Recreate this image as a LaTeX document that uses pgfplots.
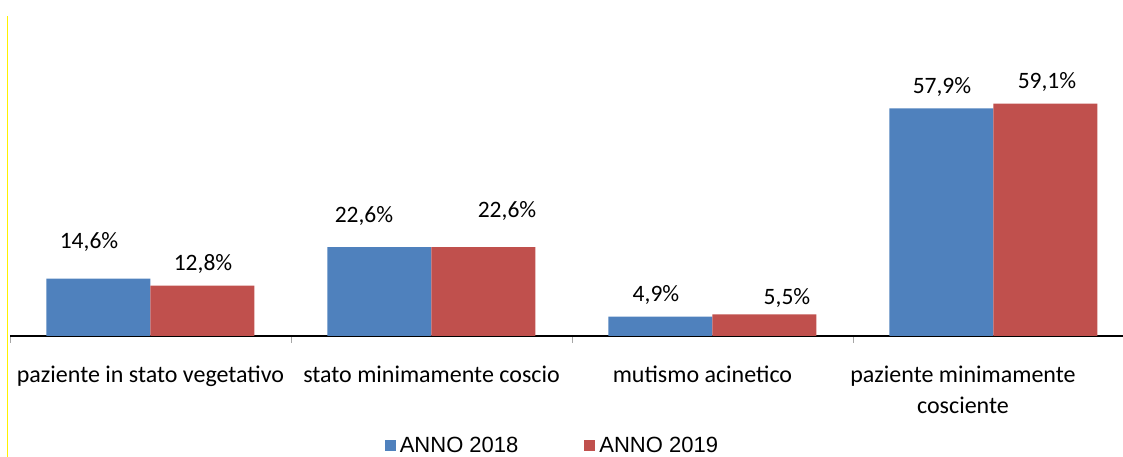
\documentclass[border=0pt]{standalone}
\usepackage{pgfplots}
\pgfplotsset{compat=1.18}
\usepackage{fontspec}
\setmainfont{Carlito}
\newfontfamily\arialfont{Liberation Sans}
\definecolor{blu}{HTML}{4F81BD}
\definecolor{ros}{HTML}{C0504D}
\begin{document}
\begin{tikzpicture}[x=1pt,y=1pt]
\begin{axis}[
  at={(10pt,121pt)}, anchor=south west,
  scale only axis, width=1124pt, height=275.1pt,
  xmin=-0.5, xmax=3.5, ymin=0, ymax=70,
  ybar=0pt, bar width=104pt,
  axis x line=bottom, axis y line=none,
  x axis line style={-, black, line width=1.2pt},
  xtick={-0.5,0.5,1.5,2.5,3.5},
  x tick label as interval,
  xticklabels={paziente in stato vegetativo, stato minimamente coscio, \kern-20pt mutismo acinetico, {\kern-61pt paziente minimamente\\\kern-61pt cosciente}},
  major tick length=7pt, tick align=outside,
  tick style={draw=gray!70, line width=0.8pt},
  xticklabel style={font=\fontsize{24}{31}\selectfont, align=center, anchor=north, inner sep=0pt, yshift=-23pt},
  ytick=\empty,
  /pgf/number format/assume math mode=true,
  nodes near coords={\pgfmathprintnumber[fixed,fixed zerofill,precision=1,use comma]{\pgfplotspointmeta}\%},
  visualization depends on={\thisrow{dx}\as\dx},
  visualization depends on={\thisrow{dy}\as\dy},
  every node near coord/.append style={font=\fontsize{23.5}{28}\selectfont, anchor=center, xshift=\dx pt, yshift=\dy pt, text=black},
  legend style={draw=none, fill=none, font=\arialfont\fontsize{22}{26}\selectfont, legend columns=2, at={(0.4826,-0.3990)}, anchor=center, /tikz/every odd column/.append style={column sep=2pt}, /tikz/every even column/.append style={column sep=64pt}},
  clip=false,
]
\addplot[fill=blu, draw=none, legend image code/.code={\fill[blu] (0pt,-5.5pt) rectangle (11pt,5.5pt);}] table {
x y dx dy
0 14.6 -9.5 37.0
1 22.6 -15.5 31.6
2 4.9 -4.5 22.1
3 57.9 0.5 21.9
};
\addplot[fill=ros, draw=none, legend image code/.code={\fill[ros] (0pt,-5.5pt) rectangle (11pt,5.5pt);}] table {
x y dx dy
0 12.8 0.5 22.1
1 22.6 23.5 36.6
2 5.5 22.5 16.8
3 59.1 1.5 22.1
};
\legend{ANNO 2018, ANNO 2019}
\end{axis}
\draw[yellow, line width=1.2pt] (7.3,0) -- (7.3,441);
\pgfresetboundingbox
\path[use as bounding box] (0,0) rectangle (1123,457);
\end{tikzpicture}
\end{document}
